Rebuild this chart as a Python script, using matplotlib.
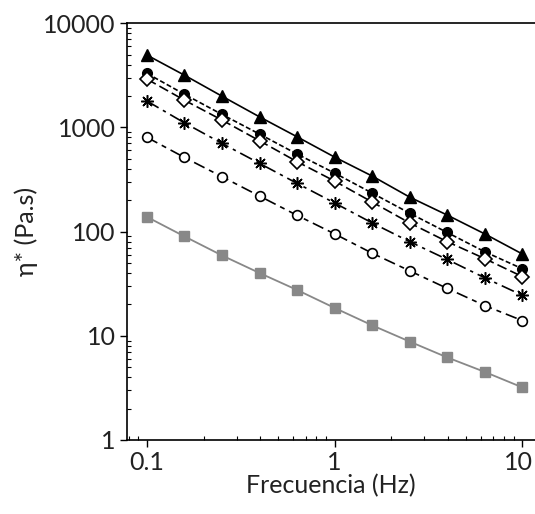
import matplotlib
matplotlib.use("Agg")
from matplotlib import pyplot as plt
from matplotlib import transforms
from matplotlib.ticker import FixedLocator, FixedFormatter, LogLocator, NullFormatter

# frequencies (Hz), 5 points per decade
freq = [0.1, 0.158, 0.251, 0.398, 0.631, 1.0, 1.585, 2.512, 3.981, 6.31, 10.0]

# complex viscosity (Pa.s)
eta_triangle = [4930, 3170, 1990, 1260, 811, 518, 341, 214, 144, 95, 61]
eta_fcircle = [3290, 2080, 1330, 861, 554, 364, 234, 150, 98, 64, 44]
eta_diamond = [2900, 1825, 1174, 743, 468, 305, 192, 121, 80, 55, 37]
eta_star = [1786, 1106, 702, 451, 290, 188, 121, 80, 54, 36, 24.5]
eta_ocircle = [801, 515, 336, 219, 143, 95, 62, 42, 28.5, 19.5, 14]
eta_square = [138, 90, 59, 40, 27.5, 18.5, 12.6, 8.8, 6.2, 4.5, 3.2]

plt.rcParams['font.family'] = ['Lato', 'DejaVu Sans']

fig = plt.figure(figsize=(5.35, 5.14), dpi=100)
ax = fig.add_axes([0.237, 0.144, 0.763, 0.811])

ax.plot(freq, eta_square, color="#888888", lw=1.3, marker="s", ms=7,
        mfc="#888888", mec="#888888", zorder=2)
ax.plot(freq, eta_ocircle, color="black", lw=1.2, dashes=(7, 3, 3, 3), marker="o", ms=7,
        mfc="white", mec="black", mew=1.2, zorder=3)
ax.plot(freq, eta_star, color="black", lw=1.2, dashes=(8, 3, 2, 3), marker=(8, 2, 0), ms=9,
        mec="black", mew=1.1, zorder=3)
ax.plot(freq, eta_diamond, color="black", lw=1.2, dashes=(6, 2.5), marker="D", ms=7,
        mfc="white", mec="black", mew=1.2, zorder=4)
ax.plot(freq, eta_fcircle, color="black", lw=1.2, dashes=(3, 1.5), marker="o", ms=7,
        mfc="black", mec="black", zorder=3)
ax.plot(freq, eta_triangle, color="black", lw=1.2, marker="^", ms=8,
        mfc="black", mec="black", zorder=3)

ax.set_xscale("log")
ax.set_yscale("log")
ax.set_xlim(0.078, 11.7)
ax.set_ylim(1, 10000)

ax.xaxis.set_major_locator(FixedLocator([0.1, 1, 10]))
ax.xaxis.set_major_formatter(FixedFormatter(["0.1", "1", "10"]))
ax.xaxis.set_minor_locator(LogLocator(base=10, subs=[2, 3, 4, 5, 6, 7, 8, 9]))
ax.xaxis.set_minor_formatter(NullFormatter())
ax.yaxis.set_major_locator(FixedLocator([1, 10, 100, 1000, 10000]))
ax.yaxis.set_major_formatter(FixedFormatter(["1", "10", "100", "1000", "10000"]))
ax.yaxis.set_minor_locator(LogLocator(base=10, subs=[2, 3, 4, 5, 6, 7, 8, 9]))
ax.yaxis.set_minor_formatter(NullFormatter())

ax.tick_params(which="major", direction="out", length=5, width=1, labelsize=18,
               colors="black", labelcolor="#222222")
ax.tick_params(which="minor", direction="in", length=3, width=0.8)
ax.tick_params(axis="x", which="major", pad=3)
ax.tick_params(axis="y", which="major", pad=3)

ax.spines["right"].set_visible(False)
for s in ["left", "bottom", "top"]:
    ax.spines[s].set_linewidth(1.2)

ax.set_xlabel("Frecuencia (Hz)", fontsize=18, labelpad=0, color="#222222")
ax.set_ylabel("η* (Pa.s)", fontsize=18, labelpad=4, color="#222222")

# keep the "10" label inside the figure edge
last = ax.get_xticklabels()[-1]
last.set_transform(last.get_transform() + transforms.ScaledTranslation(-4 / 100, 0, fig.dpi_scale_trans))

fig.savefig("out.png", dpi=100)
